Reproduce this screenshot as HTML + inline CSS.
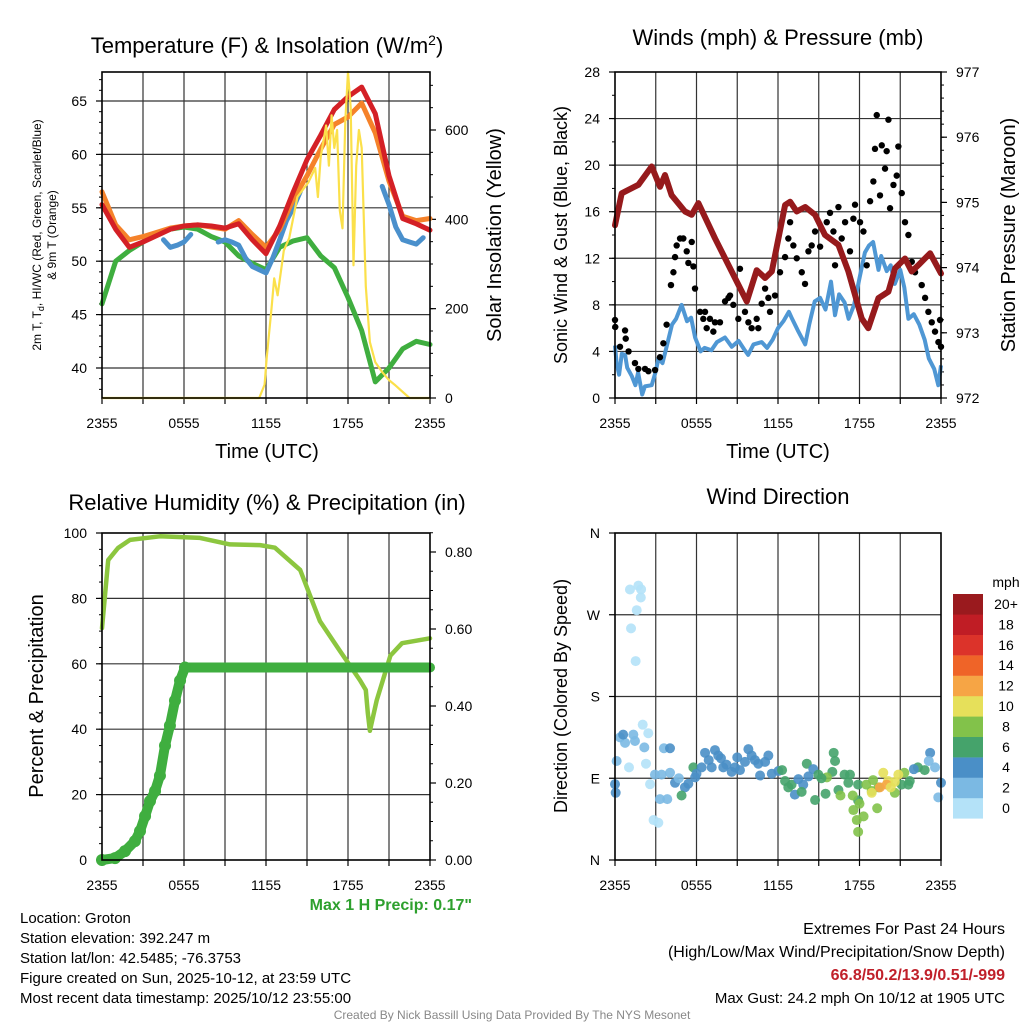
<!DOCTYPE html>
<html><head><meta charset="utf-8"><style>
html,body{margin:0;padding:0;background:#fff;}
svg{display:block;font-family:"Liberation Sans",Arial,sans-serif;}
</style></head><body>
<svg id="chart" width="1024" height="1024" viewBox="0 0 1024 1024" xmlns="http://www.w3.org/2000/svg">
<rect width="1024" height="1024" fill="#fff"/>
<text x="267" y="53" font-size="22" text-anchor="middle">Temperature (F) &amp; Insolation (W/m<tspan dy="-8" font-size="14">2</tspan><tspan dy="8">)</tspan></text>
<text x="778" y="45" font-size="22" text-anchor="middle">Winds (mph) &amp; Pressure (mb)</text>
<text x="267" y="510" font-size="22" text-anchor="middle">Relative Humidity (%) &amp; Precipitation (in)</text>
<text x="778" y="504" font-size="22" text-anchor="middle">Wind Direction</text>
<text transform="translate(41,235) rotate(-90)" font-size="12" text-anchor="middle">2m T, T<tspan font-size="9" dy="3">d</tspan><tspan dy="-3">, HI/WC (Red, Green, Scarlet/Blue)</tspan></text>
<text transform="translate(56,235) rotate(-90)" font-size="12" text-anchor="middle">&amp; 9m T (Orange)</text>
<text transform="translate(501,235) rotate(-90)" font-size="20" text-anchor="middle">Solar Insolation (Yellow)</text>
<text x="267" y="458" font-size="20" text-anchor="middle">Time (UTC)</text>
<text transform="translate(567,235) rotate(-90)" font-size="18" text-anchor="middle">Sonic Wind &amp; Gust (Blue, Black)</text>
<text transform="translate(1015,235) rotate(-90)" font-size="20" text-anchor="middle">Station Pressure (Maroon)</text>
<text x="778" y="458" font-size="20" text-anchor="middle">Time (UTC)</text>
<text transform="translate(43,696) rotate(-90)" font-size="20" text-anchor="middle">Percent &amp; Precipitation</text>
<text transform="translate(567,696) rotate(-90)" font-size="18" text-anchor="middle">Direction (Colored By Speed)</text>
<text x="472" y="910" font-size="16" font-weight="bold" fill="#2ea02e" text-anchor="end">Max 1 H Precip: 0.17"</text>
<g font-size="15">
<text x="20" y="923">Location: Groton</text>
<text x="20" y="943">Station elevation: 392.247 m</text>
<text x="20" y="963">Station lat/lon: 42.5485; -76.3753</text>
<text x="20" y="983">Figure created on Sun, 2025-10-12, at 23:59 UTC</text>
<text x="20" y="1003">Most recent data timestamp: 2025/10/12 23:55:00</text>
</g>
<g font-size="16" text-anchor="end">
<text x="1005" y="934">Extremes For Past 24 Hours</text>
<text x="1005" y="957">(High/Low/Max Wind/Precipitation/Snow Depth)</text>
<text x="1005" y="980" fill="#c0202a" font-weight="bold">66.8/50.2/13.9/0.51/-999</text>
<text x="1005" y="1003" font-size="15">Max Gust: 24.2 mph On 10/12 at 1905 UTC</text>
</g>
<text x="512" y="1019" font-size="12" fill="#888" text-anchor="middle">Created By Nick Bassill Using Data Provided By The NYS Mesonet</text>
<g id="plots"></g>
</svg>
<script>
const timeTicks = [0,6,12,18,24];
const timeTickLabels = ["2355","0555","1155","1755","2355"];
const hourly = [0,1,2,3,4,5,6,7,8,9,10,11,12,13,14,15,16,17,18,19,20,21,22,23,24];
const redTemp = [55.3,53.0,51.3,51.8,52.4,53.0,53.3,53.4,53.3,53.1,53.5,52.0,50.7,53.3,56.5,59.5,61.8,64.2,65.4,66.3,63.8,58.0,54.0,53.5,52.9];
const orangeTemp = [56.5,53.4,52.0,52.3,52.7,53.1,53.3,53.4,53.2,53.0,53.8,52.5,51.3,53.0,55.8,58.0,60.5,62.8,63.5,64.8,62.0,57.5,54.2,53.8,54.0];
const greenDew = [46.0,50.0,51.0,51.8,52.6,53.0,53.2,53.0,52.3,51.8,50.5,49.8,49.2,51.3,51.9,52.2,50.5,49.4,46.6,43.5,38.7,40.0,41.8,42.5,42.2];
const blueTemp = [null,null,null,null,null,null,null,null,null,52.0,51.3,51.5,51.8,52.5,null,null,null,51.8,52.0,51.8,51.5,50.3,49.5,49.2,48.9,50.3,52.0,53.8,55.0,56.5,null,null,null,null,null,null,null,null,null,null,null,57.0,55.3,53.2,52.0,51.8,51.6,52.2,null];
const solarTimes = [0,11.5,11.9,12.05,12.4,12.6,12.85,13.3,13.7,14.3,15.1,15.6,15.8,16.0,16.4,16.6,16.8,17.0,17.2,17.4,17.6,17.8,18.0,18.2,18.4,18.6,18.8,19.0,19.3,19.6,20.0,20.5,21.0,21.4,22.5,24];
const solarValues = [0,0,30,90,200,268,230,330,358,450,483,515,450,540,610,520,633,560,600,420,380,620,730,650,297,520,600,560,250,125,80,58,40,30,0,0];
const tempTicks = [40,45,50,55,60,65];
const solarTicks = [0,200,400,600];

const pressTimes = [0,0.49,1.72,2.7,3.31,3.68,4.17,5.15,5.65,6.14,7.36,8.59,9.7,10.43,11.05,11.54,12.52,12.89,13.38,14.0,14.73,15.46,16.45,17.18,18.16,18.65,19.39,20.13,20.62,21.35,21.84,22.34,23.2,24];
const pressValues = [974.65,975.14,975.27,975.55,975.24,975.42,975.11,974.86,974.81,974.99,974.45,973.94,973.48,973.96,973.84,973.94,974.96,975.01,974.86,974.93,974.81,974.50,974.35,973.94,973.22,973.07,973.53,973.63,973.99,974.14,973.94,974.04,974.22,973.91];
const windTimes = [0,0.12,0.3,0.5,0.74,0.9,1.23,1.5,1.7,2.0,2.2,2.7,3.0,3.2,3.5,3.8,4.2,4.5,4.9,5.3,5.6,5.9,6.3,6.6,7.1,7.5,8.1,8.6,9.1,9.5,9.8,10.2,10.8,11.2,11.6,12.0,12.4,12.8,13.0,13.5,14.0,14.3,14.7,15.1,15.5,15.9,16.2,16.5,16.9,17.2,17.6,18.0,18.4,18.7,19.0,19.4,19.6,20.0,20.3,20.6,21.0,21.3,21.6,22.0,22.4,22.8,23.1,23.5,23.8,24];
const windValues = [4.5,3.0,2.0,3.8,3.7,2.6,1.9,1.1,2.2,0.3,1.0,1.1,2.3,3.4,3.0,4.4,6.3,6.8,8.0,6.6,6.9,5.2,4.0,4.3,4.1,4.8,5.2,4.4,4.9,4.2,3.7,4.6,4.8,4.3,5.0,6.0,6.6,7.4,6.9,5.7,4.6,6.3,8.3,8.6,7.6,10.0,7.1,8.9,8.2,6.8,8.0,10.3,12.5,13.1,13.4,11.0,12.2,10.9,11.4,9.8,11.0,9.5,6.8,7.2,6.3,5.0,3.4,2.5,1.1,2.8];
const gustTimes = [0.0,0.02,0.37,0.74,0.79,1.0,1.47,1.72,2.21,2.46,2.95,3.31,3.56,3.8,4.12,4.3,4.42,4.54,4.79,5.03,5.28,5.4,5.65,5.77,5.89,6.26,6.5,6.63,6.75,6.99,7.24,7.36,7.73,8.1,8.35,8.47,8.71,9.08,9.2,9.57,9.82,10.06,10.43,10.55,10.8,11.05,11.29,11.41,11.78,12.15,12.52,12.76,12.89,13.13,13.38,13.75,13.99,14.24,14.48,14.73,15.1,15.59,15.83,16.08,16.2,16.45,16.69,16.94,17.3,17.55,17.67,18.04,18.29,18.53,18.78,19.02,19.14,19.27,19.51,19.64,19.88,20.0,20.13,20.25,20.5,20.74,20.86,21.11,21.35,21.6,21.85,22.09,22.58,22.83,23.07,23.32,23.56,23.81,23.93,24.0];
const gustValues = [6.7,6.1,4.4,5.8,5.1,4.0,3.0,2.5,2.5,2.3,2.4,3.5,4.7,6.3,9.7,10.8,12.1,13.1,13.7,13.7,12.6,11.6,13.4,11.3,9.4,7.4,6.8,7.4,6.0,6.8,5.7,6.5,6.5,8.3,8.6,8.8,8.0,6.8,11.1,7.4,6.5,6.0,6.8,6.0,8.1,9.4,8.6,7.4,8.8,10.8,12.1,13.7,15.1,13.1,12.0,10.8,9.8,12.6,13.1,14.3,13.0,15.1,15.9,14.3,11.4,16.4,13.7,15.1,12.6,15.4,16.6,15.1,14.3,11.4,16.9,18.6,21.4,24.3,17.4,21.7,19.7,21.2,23.9,16.3,18.3,19.1,21.6,17.6,15.1,14.0,11.7,10.8,9.7,8.6,7.4,6.5,5.7,4.8,6.7,4.4];
const windTicks = [0,4,8,12,16,20,24,28];
const pressTicks = [972,973,974,975,976,977];

const rhTimes = [0,0.45,1.17,2.05,4.24,7.17,9.36,11.56,12.65,14.5,15.95,17.4,18.87,19.3,19.45,19.6,20.1,21.1,21.95,24];
const rhValues = [70.9,91.7,95.4,97.9,99.0,98.5,96.5,96.3,95.5,88.7,73.0,64.0,55.0,52.0,45.0,39.5,48.8,62.5,66.3,67.8];
const precipTimes = [0,0.95,1.68,2.41,2.78,3.15,3.51,3.88,4.24,4.61,4.97,5.34,5.71,6.07,24];
const precipValues = [0,0.005,0.023,0.049,0.075,0.114,0.153,0.179,0.219,0.297,0.349,0.414,0.466,0.5,0.5];
const rhTicks = [0,20,40,60,80,100];
const precipTicks = [0,0.2,0.4,0.6,0.8];
const precipTickLabels = ["0.00","0.20","0.40","0.60","0.80"];

const dirTimes = [1.1,1.72,1.92,1.9,1.6,1.18,1.52,2.04,2.45,1.03,2.28,2.58,2.84,3.19,3.31,3.85,0.0,0.05,0.37,0.74,0.6,1.35,1.47,2.16,0.12,2.94,3.43,4.05,3.6,4.05,4.42,5.15,4.9,5.4,5.77,5.9,6.38,6.63,7.12,7.36,7.6,7.97,8.59,8.83,9.57,9.82,10.06,10.55,10.68,11.05,11.29,11.54,9.2,12.03,12.52,13.0,13.5,14.12,14.6,14.97,16.45,17.18,17.9,17.9,22.3,22.8,21.6,13.24,13.86,14.24,23.2,23.56,23.8,24.0,23.1,12.76,13.74,14.73,15.5,16.0,16.1,16.2,16.9,17.3,17.5,18.0,17.8,17.9,18.3,18.9,21.1,21.7,15.6,16.6,17.55,18.5,19.3,20.6,21.3,19.4,19.75,18.9,20.1,20.6,20.86,19.5,20.0,6.9,7.8,8.2,9.0,10.3,6.0,12.3,15.2,19.0,20.3,22.0,4.7];
const dirValues = [297.8,302,298,289,275,255,219,149,139.6,102,106,83.5,44,41,67,67,83.5,74,135,129,138,138,131,124,109,94,94,96,123,123,85,80,71,84,102,91,102,118,102,121,115,102,97,102,108,122,115,106,93,108,115,95,99,98,87,83,89,106,100,94,77,85,83,65.6,102,99,83,72,83,92,118,102,69,85,109,80,75,66,73,97,118,109,94,94,71,62,44,31,48,76,83,87,91,71,55,83,57,74,96,80,96,74,87,86,94,80,83,110,112,105,113,110,95,99,90,88,80,100,90];
const dirSpeeds = [0.5,0.5,0.5,0.5,0.5,0.5,0.5,1,1,1,1,1,1,1,2,3,4.5,4.5,3,3,4,3,3,2.5,2,2,2,3.5,2.5,4,5.5,5.5,7,5.5,6,5.5,4,4,4,4,4,4,4,4,4,4,4,4,4,4,4,4,5.5,5.5,7,7,5.5,6,5.5,6,6,6,6,7,6,6,6,4,4,4,4,3,2.5,4,2.5,7.5,7.5,7.5,7.5,7.5,7.5,7.5,7.5,7.5,8,8,8,8,8,8,7.5,7.5,9.5,9.5,9.5,9.5,9.5,9.5,9.5,9.5,11.5,11.5,11.5,11.5,11.5,13.5,13.5,4,4,4,4,4,5.5,6,7,8,11,5.5,3];
const dirTicks = [0,90,180,270,360];
const dirTickLabels = ["N","E","S","W","N"];
const legendLabels = ["0","2","4","6","8","10","12","14","16","18","20+"];
const legendColors = ["#b4e2f8","#7bb9e3","#4a8fc7","#45a36b","#82c24a","#e6e05a","#f6a545","#ef6428","#dc332a","#c01d25","#9a1a1e"];

const NS = "http://www.w3.org/2000/svg";
const root = document.getElementById('plots');
function mk(tag, a){ const e=document.createElementNS(NS,tag); for(const k in a) e.setAttribute(k,a[k]); return e; }
function lin(d0,d1,r0,r1){ return v => r0 + (v-d0)*(r1-r0)/(d1-d0); }
function pathFrom(xs, ys, sx, sy){
  let d="", pen=false;
  for(let i=0;i<xs.length;i++){
    if(ys[i]===null||ys[i]===undefined){ pen=false; continue; }
    d += (pen?"L":"M") + sx(xs[i]).toFixed(1) + "," + sy(ys[i]).toFixed(1);
    pen=true;
  }
  return d;
}
function frame(g, x0,y0,x1,y1, name){
  const r = mk('rect',{x:x0,y:y0,width:x1-x0,height:y1-y0,fill:'none',stroke:'#000','stroke-width':1.6});
  
  
  g.appendChild(r);
}
function vgrid(g, sx, y0, y1){
  for(let h=3; h<24; h+=3){
    const l = mk('line',{x1:sx(h),x2:sx(h),y1:y0,y2:y1,stroke:'#333','stroke-width':1.2});
    
    
    g.appendChild(l);
  }
  for(let h=0; h<=24; h+=3){
    const t = mk('line',{x1:sx(h),x2:sx(h),y1:y1,y2:y1+6,stroke:'#000','stroke-width':1.2});
    
    
    g.appendChild(t);
  }
  timeTicks.forEach((h,i)=>{
    const tx = mk('text',{x:sx(h),y:y1+30,'font-size':14,'text-anchor':'middle'});
    tx.textContent = timeTickLabels[i];
    
    
    g.appendChild(tx);
  });
}
function hgrid(g, sy, ticks, x0, x1){
  ticks.forEach(v=>{
    const l = mk('line',{x1:x0,x2:x1,y1:sy(v),y2:sy(v),stroke:'#333','stroke-width':1.2});
    
    
    g.appendChild(l);
  });
}
function yaxis(g, sy, ticks, labels, x, side, fs){
  ticks.forEach((v,i)=>{
    const dx = side==='left' ? -6 : 6;
    const t = mk('line',{x1:x,x2:x+dx,y1:sy(v),y2:sy(v),stroke:'#000','stroke-width':1.2});
    
    
    g.appendChild(t);
    const tx = mk('text',{x: side==='left'? x-15 : x+15, y: sy(v)+5, 'font-size':fs||14, 'text-anchor': side==='left'?'end':'start'});
    tx.textContent = labels ? labels[i] : String(v);
    
    
    g.appendChild(tx);
  });
}
function minor(g, sy, from, to, step, x, side){
  for(let v=from; v<=to+1e-9; v+=step){
    const dx = side==='left'?-3:3;
    const t = mk('line',{x1:x,x2:x+dx,y1:sy(v),y2:sy(v),stroke:'#000','stroke-width':1});
    
    
    g.appendChild(t);
  }
}

(function(){
  const g = mk('g',{});   root.appendChild(g);
  const x = lin(0,24,102,430), y = lin(40,65,368,101), yr = lin(0,600,398,130);
  hgrid(g, y, tempTicks, 102, 430);
  vgrid(g, x, 72, 398);
  minor(g, y, 38, 67, 1, 102, 'left');
  minor(g, yr, 0, 700, 50, 430, 'right');
  yaxis(g, y, tempTicks, null, 102, 'left');
  yaxis(g, yr, solarTicks, null, 430, 'right');
  const series = [
    [greenDew,'#3fae3f','dewpoint-line'],
    [blueTemp,'#4a90cc','windchill-line'],
    [orangeTemp,'#f5822a','9m-temperature-line'],
    [redTemp,'#d42026','2m-temperature-line']
  ];
  series.forEach(s=>{
    const xs = s[0].length===49 ? s[0].map((_,i)=>i/2) : hourly;
    const p = mk('path',{d:pathFrom(xs,s[0],x,y),fill:'none',stroke:s[1],'stroke-width':5,'stroke-linejoin':'round','stroke-linecap':'round'});
    
    
    g.appendChild(p);
  });
  const sp = mk('path',{d:pathFrom(solarTimes,solarValues,x,yr),fill:'none',stroke:'#fbe04a','stroke-width':2.2,'stroke-linejoin':'round'});
  
  
  g.appendChild(sp);
  frame(g,102,72,430,398,'temperature-plot-frame');
})();

(function(){
  const g = mk('g',{});   root.appendChild(g);
  const x = lin(0,24,615,941), y = lin(0,28,398,72), yp = lin(972,977,398,72);
  hgrid(g, y, windTicks.slice(1,-1), 615, 941);
  vgrid(g, x, 72, 398);
  minor(g, y, 0, 28, 2, 615, 'left');
  minor(g, yp, 972, 977, 0.2, 941, 'right');
  yaxis(g, y, windTicks, null, 615, 'left');
  yaxis(g, yp, pressTicks, null, 941, 'right');
  const wp = mk('path',{d:pathFrom(windTimes,windValues,x,y),fill:'none',stroke:'#4f97d4','stroke-width':4,'stroke-linejoin':'round'});
  
  
  g.appendChild(wp);
  gustTimes.forEach((t,i)=>{
    const c = mk('circle',{cx:x(t),cy:y(gustValues[i]),r:3.2,fill:'#000'});
    
    
    g.appendChild(c);
  });
  const pp = mk('path',{d:pathFrom(pressTimes,pressValues,x,yp),fill:'none',stroke:'#961a1c','stroke-width':6,'stroke-linejoin':'round','stroke-linecap':'round'});
  
  
  g.appendChild(pp);
  frame(g,615,72,941,398,'winds-plot-frame');
})();

(function(){
  const g = mk('g',{});   root.appendChild(g);
  const x = lin(0,24,102,430), y = lin(0,100,860,533), yp = lin(0,0.8,860,552);
  hgrid(g, y, rhTicks.slice(1,-1), 102, 430);
  vgrid(g, x, 533, 860);
  minor(g, y, 0, 100, 5, 102, 'left');
  minor(g, yp, 0, 0.85, 0.05, 430, 'right');
  yaxis(g, y, rhTicks, null, 102, 'left');
  yaxis(g, yp, precipTicks, precipTickLabels, 430, 'right');
  const rp = mk('path',{d:pathFrom(rhTimes,rhValues,x,y),fill:'none',stroke:'#8cc63f','stroke-width':4.5,'stroke-linejoin':'round','stroke-linecap':'round'});
  
  
  g.appendChild(rp);
  const pl = mk('path',{d:pathFrom(precipTimes,precipValues,x,yp),fill:'none',stroke:'#3fae3f','stroke-width':10,'stroke-linejoin':'round','stroke-linecap':'round'});
  
  
  g.appendChild(pl);
  precipTimes.slice(0,-1).forEach((t,i)=>{
    const c = mk('circle',{cx:x(t),cy:yp(precipValues[i]),r:6,fill:'#3fae3f'});
    
    
    g.appendChild(c);
  });
  frame(g,102,533,430,860,'humidity-plot-frame');
})();

(function(){
  const g = mk('g',{});   root.appendChild(g);
  const x = lin(0,24,615,941), y = lin(0,360,860,533);
  hgrid(g, y, dirTicks.slice(1,-1), 615, 941);
  vgrid(g, x, 533, 860);
  yaxis(g, y, dirTicks, dirTickLabels, 615, 'left');
  function col(s){ let k=Math.floor(s/2); if(k>10)k=10; if(k<0)k=0; return legendColors[k]; }
  dirTimes.forEach((t,i)=>{
    const c = mk('circle',{cx:x(t),cy:y(dirValues[i]),r:5,fill:col(dirSpeeds[i]),'fill-opacity':0.9});
    
    
    g.appendChild(c);
  });
  frame(g,615,533,941,860,'wind-direction-plot-frame');
  const lg = mk('g',{});   root.appendChild(lg);
  const ht = mk('text',{x:1006,y:587,'font-size':14,'text-anchor':'middle'});
  ht.textContent = 'mph';
  
  
  lg.appendChild(ht);
  legendLabels.forEach((lab,i)=>{
    const top = 594 + (10-i)*20.4;
    const r = mk('rect',{x:953,y:top,width:30,height:20.6,fill:legendColors[i]});
    
    
    lg.appendChild(r);
    const t = mk('text',{x:1006,y:top+15,'font-size':14,'text-anchor':'middle'});
    t.textContent = lab;
    
    
    lg.appendChild(t);
  });
})();
</script>
</body></html>
